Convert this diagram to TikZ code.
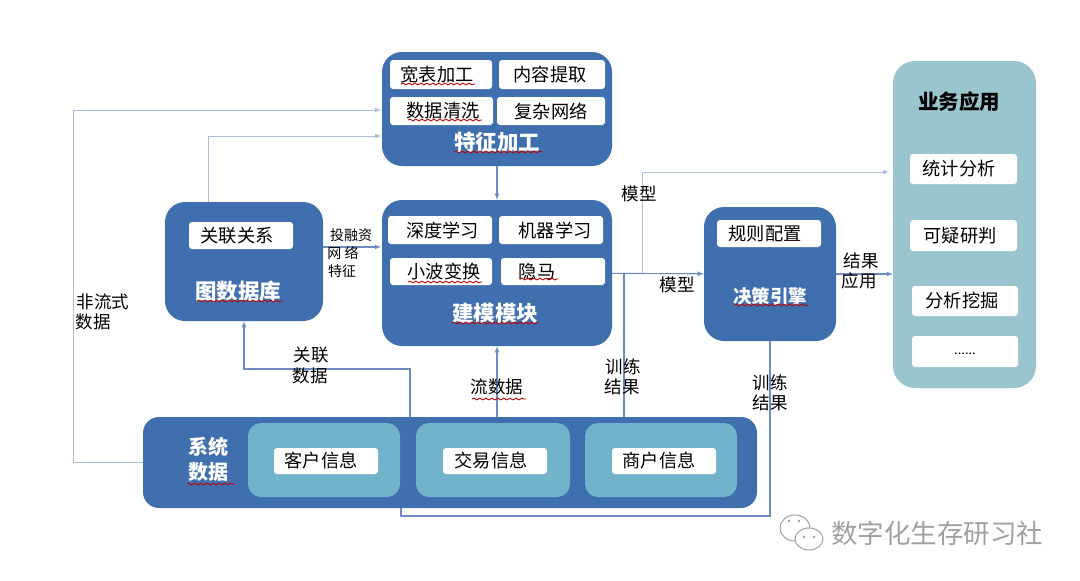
\documentclass[tikz,border=0pt]{standalone}
\usepackage{fontspec}
\setmainfont{Noto Sans CJK SC}
\usetikzlibrary{calc}
\usetikzlibrary{decorations.pathmorphing}

\definecolor{boxblue}{HTML}{3F6FAE}
\definecolor{innerteal}{HTML}{70B3CB}
\definecolor{panelteal}{HTML}{9AC5CE}
\definecolor{linemid}{HTML}{6E8CC2}
\definecolor{linelight}{HTML}{AEBDDB}
\definecolor{markgray}{HTML}{A0A0A0}

\tikzset{
  bluebox/.style={rectangle, rounded corners=20pt, fill=boxblue, inner sep=0pt},
  whitebox/.style={rectangle, rounded corners=3pt, fill=white, inner sep=0pt, text=black, font=\fontsize{18.2}{20}\selectfont},
  tealbox/.style={rectangle, rounded corners=13pt, fill=innerteal, inner sep=0pt},
  title/.style={text=white, inner sep=0pt, font=\fontsize{21.5}{23}\selectfont\bfseries},
  tag/.style={text=black, inner sep=0pt, font=\fontsize{17.5}{19}\selectfont},
  flow/.style={color=linemid, line width=1.1pt, -latex},
  flowline/.style={color=linemid, line width=1.1pt},
  flowpale/.style={color=linelight, line width=1pt, -latex},
  squiggle/.style={draw=red!75!black, line width=0.9pt, decorate, decoration={snake, amplitude=0.9pt, segment length=6pt}}
}

\begin{document}
\begin{tikzpicture}[x=1pt, y=-1pt]
  \useasboundingbox (0,0) rectangle (1080,581);

  % feature box
  \node[bluebox, minimum width=230pt, minimum height=114pt] (feature) at (497,109) {};
  \node[whitebox, minimum width=102pt, minimum height=29pt] (widetable) at (441,74.5) {宽表加工\kern8pt};
  \node[whitebox, minimum width=106pt, minimum height=29pt] (content) at (552,74.5) {内容提取\kern4pt};
  \node[whitebox, minimum width=103pt, minimum height=28pt] (clean) at (441.5,111) {\kern3pt 数据清洗};
  \node[whitebox, minimum width=108pt, minimum height=28pt] (network) at (551,111) {复杂网络};
  \node[title] (featuretitle) at (497,142) {特征加工};

  % model box
  \node[bluebox, minimum width=230pt, minimum height=146pt] (model) at (497,273) {};
  \node[whitebox, minimum width=104pt, minimum height=28pt] (deep) at (440,230) {\kern5pt 深度学习};
  \node[whitebox, minimum width=104pt, minimum height=28pt] (machine) at (551,230) {\kern8pt 机器学习};
  \node[whitebox, minimum width=102pt, minimum height=27pt] (wavelet) at (441,271.5) {\kern6pt 小波变换};
  \node[whitebox, minimum width=104pt, minimum height=27pt] (hmm) at (553,271.5) {隐马\kern32pt};
  \node[title] (modeltitle) at (495,313) {建模模块};

  % graph box
  \node[bluebox, minimum width=158pt, minimum height=119pt] (graph) at (244,261.5) {};
  \node[whitebox, minimum width=104pt, minimum height=27pt] (relation) at (241,235.5) {关联关系\kern8pt};
  \node[title] (graphtitle) at (238,291) {图数据库};

  % decision box
  \node[bluebox, minimum width=132pt, minimum height=134pt] (decision) at (770,274) {};
  \node[whitebox, minimum width=104pt, minimum height=27pt] (rule) at (769,233.5) {规则配置\kern8pt};
  \node[title, font=\fontsize{18.5}{20}\selectfont\bfseries] (decisiontitle) at (770,296) {决策引擎};

  % business panel
  \node[rectangle, rounded corners=22pt, fill=panelteal, minimum width=143pt, minimum height=327pt] (business) at (964.5,224.5) {};
  \node[text=black, inner sep=0pt, font=\fontsize{20.5}{22}\selectfont\bfseries] (businesstitle) at (959,102) {业务应用};
  \node[whitebox, minimum width=107pt, minimum height=30pt] (stats) at (963.5,169) {统计分析\kern9pt};
  \node[whitebox, minimum width=107pt, minimum height=31pt] (suspect) at (963.5,235.5) {可疑研判\kern7pt};
  \node[whitebox, minimum width=106pt, minimum height=30pt] (mining) at (965,301) {分析挖掘\kern6pt};
  \node[whitebox, minimum width=106pt, minimum height=31pt] (more) at (965,351.5) {\raisebox{-7pt}{\fontsize{13}{14}\selectfont ......}};

  % system box
  \node[bluebox, rounded corners=16pt, minimum width=614pt, minimum height=91pt] (system) at (450,462.5) {};
  \node[tealbox, minimum width=152pt, minimum height=74pt] (customerbg) at (324,460) {};
  \node[tealbox, minimum width=154pt, minimum height=74pt] (tradebg) at (493,460) {};
  \node[tealbox, minimum width=152pt, minimum height=74pt] (merchantbg) at (661,460) {};
  \node[whitebox, minimum width=104pt, minimum height=26pt] (customer) at (326,461) {客户信息\kern10pt};
  \node[whitebox, minimum width=104pt, minimum height=26pt] (trade) at (495,461) {交易信息\kern8pt};
  \node[whitebox, minimum width=104pt, minimum height=26pt] (merchant) at (664,461) {商户信息\kern10pt};
  \node[title, font=\fontsize{20}{22}\selectfont\bfseries] (systemtitle1) at (208,447) {系统};
  \node[title, font=\fontsize{20}{22}\selectfont\bfseries] (systemtitle2) at (208,472) {数据};

  % connector ends
  \coordinate (featurein1) at (381,110);
  \coordinate (featurein2) at (381,136);
  \coordinate (leftbend) at (73,110);
  \coordinate (graphtop) at (208,202);
  \coordinate (graphout) at (323,247);
  \coordinate (modelin) at (381,247);
  \coordinate (modeljoint) at (642,273);
  \coordinate (trainjoint) at (624,273);
  \coordinate (businessin1) at (889,172);
  \coordinate (businessin2) at (893,274);
  \coordinate (systemtop1) at (410,417);
  \coordinate (systemtop2) at (497,417);
  \coordinate (systemtop3) at (624,417);
  \coordinate (relationbend) at (244,369);
  \coordinate (backbend) at (401,516);
  \coordinate (systembottom) at (401,508);

  \path[flow] (feature) edge (model);
  \path[flow] (graphout) edge (modelin);
  \path[flow] (model) edge (decision);
  \path[flow] (decision) edge (businessin2);
  \path[flow] (systemtop2) edge (model);
  \draw[flowpale] (graphtop) |- (featurein2);
  \draw[flowpale] (system.west) -| (leftbend) -- (featurein1);
  \draw[flowpale] (modeljoint) |- (businessin1);
  \draw[flow] (systemtop1) |- (relationbend) -- (graph.south);
  \draw[flowline] (systemtop3) -- (trainjoint);
  \draw[flowline] (decision.south) |- (backbend) -- (systembottom);

  % labels
  \node[tag, font=\fontsize{14}{16}\selectfont] (funding) at (351,235) {投融资};
  \node[tag, font=\fontsize{14}{16}\selectfont] (web) at (343,253) {网 络};
  \node[tag, font=\fontsize{14}{16}\selectfont] (trait) at (342,271) {特征};
  \node[tag] (nonflow1) at (103,302) {非流式};
  \node[tag] (nonflow2) at (93,322) {数据};
  \node[tag] (reldata1) at (311,355) {关联};
  \node[tag] (reldata2) at (310,376) {数据};
  \node[tag] (stream) at (497,387) {流数据};
  \node[tag] (train1) at (623,367) {训练};
  \node[tag] (train2) at (622,387) {结果};
  \node[tag] (back1) at (770,383) {训练};
  \node[tag] (back2) at (770,403) {结果};
  \node[tag] (modeltag1) at (639,194) {模型};
  \node[tag] (modeltag2) at (677,285) {模型};
  \node[tag] (result1) at (861,261) {结果};
  \node[tag] (result2) at (859,281) {应用};

  % spell-check marks
  \foreach \a/\b/\y in {401/475/84, 408/482/120, 454/542/152, 408/482/282, 520/558/279,
                        452/539/323, 197/283/301, 734/808/305, 472/526/399, 187/235/484}
    \draw[squiggle] (\a,\y) -- (\b,\y);

  % watermark
  \draw[markgray, line width=1pt, fill=white] (795,528) ellipse [x radius=15, y radius=13];
  \draw[markgray, line width=1pt, fill=white] (809,539) ellipse [x radius=14, y radius=11];
  \foreach \x/\y in {789/521, 799/521, 804/537, 814/537}
    \fill[markgray] (\x,\y) circle (1.3);
  \node[text=markgray, inner sep=0pt, font=\fontsize{26.5}{28}\selectfont] (mark) at (937,533) {数字化生存研习社};
\end{tikzpicture}
\end{document}
